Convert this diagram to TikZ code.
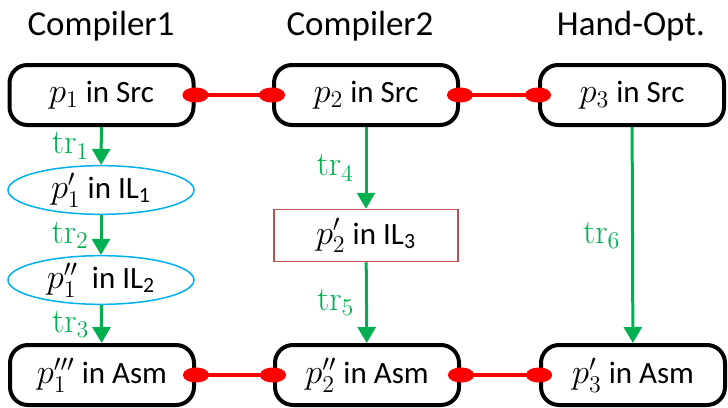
\documentclass[tikz,border=0pt]{standalone}
\usepackage[no-math]{fontspec}
\setmainfont{Carlito}
\usetikzlibrary{arrows.meta,shapes.geometric}

\definecolor{trgreen}{HTML}{00B050}
\definecolor{ilblue}{HTML}{00B0F0}
\definecolor{ilred}{HTML}{C0504D}

% programs are set a bit larger, like the math font of the slide
\newcommand{\pv}[1]{{\fontsize{18.5}{20}\selectfont$#1$}}

\begin{document}
\begin{tikzpicture}[x=0.5pt, y=-0.5pt]
\tikzstyle{title} = [anchor=base, font=\fontsize{17.5}{21}\selectfont]
\tikzstyle{prog} = [draw=black, line width=2pt, rounded corners=9pt, minimum width=92pt, minimum height=30pt, inner sep=0pt, font=\fontsize{15.5}{19}\selectfont]
\tikzstyle{il} = [ellipse, draw=ilblue, line width=0.75pt, minimum width=93pt, minimum height=23pt, inner sep=0pt, font=\fontsize{15.5}{19}\selectfont]
\tikzstyle{ilbox} = [draw=ilred, line width=0.75pt, minimum width=92pt, minimum height=26pt, inner sep=0pt, font=\fontsize{15.5}{19}\selectfont]
\tikzstyle{tr} = [draw=trgreen, line width=1.5pt, -{Triangle[length=8pt,width=9pt]}]
\tikzstyle{trlab} = [text=trgreen, left=2pt, font=\fontsize{18.5}{21}\selectfont]
\tikzstyle{eq} = [draw=red, line width=2.2pt, {Ellipse[length=13pt,width=7.5pt]}-{Ellipse[length=13pt,width=7.5pt]}, shorten <=-6.5pt, shorten >=-6.5pt]

\useasboundingbox (0,0) rectangle (728,407);

\node[title] (c1) at (101, 35) {Compiler1};
\node[title] (c2) at (360, 35) {Compiler2};
\node[title] (c3) at (631, 35) {Hand-Opt.};

\node[prog] (s1) at (101.5, 95) {\pv{p_1} in Src};
\node[prog] (s2) at (366, 95) {\pv{p_2} in Src};
\node[prog] (s3) at (632, 95) {\pv{p_3} in Src};

\node[il] (i1) at (101, 190) {\pv{p_1'} in IL\textsubscript{1}};
\node[il] (i2) at (101, 280) {\pv{p_1''}\ \ in IL\textsubscript{2}};
\node[ilbox] (i3) at (366, 235.5) {\pv{p_2'} in IL\textsubscript{3}};

\node[prog] (a1) at (102, 375) {\pv{p_1'''} in Asm};
\node[prog] (a2) at (367, 375) {\pv{p_2''} in Asm};
\node[prog] (a3) at (633, 375) {\pv{p_3'} in Asm};

\draw[eq] (s1) -- (s2);
\draw[eq] (s2) -- (s3);
\draw[eq] (a1) -- (a2);
\draw[eq] (a2) -- (a3);

\draw[tr] (s1) -- (i1) node[trlab, midway] {$\mathrm{tr}_1$};
\draw[tr] (i1) -- (i2) node[trlab, midway] {$\mathrm{tr}_2$};
\draw[tr] (i2) -- (a1) node[trlab, midway] {$\mathrm{tr}_3$};
\draw[tr] (s2) -- (i3) node[trlab, midway] {$\mathrm{tr}_4$};
\draw[tr] (i3) -- (a2) node[trlab, midway] {$\mathrm{tr}_5$};
\draw[tr] (s3) -- (a3) node[trlab, midway] {$\mathrm{tr}_6$};
\end{tikzpicture}
\end{document}
